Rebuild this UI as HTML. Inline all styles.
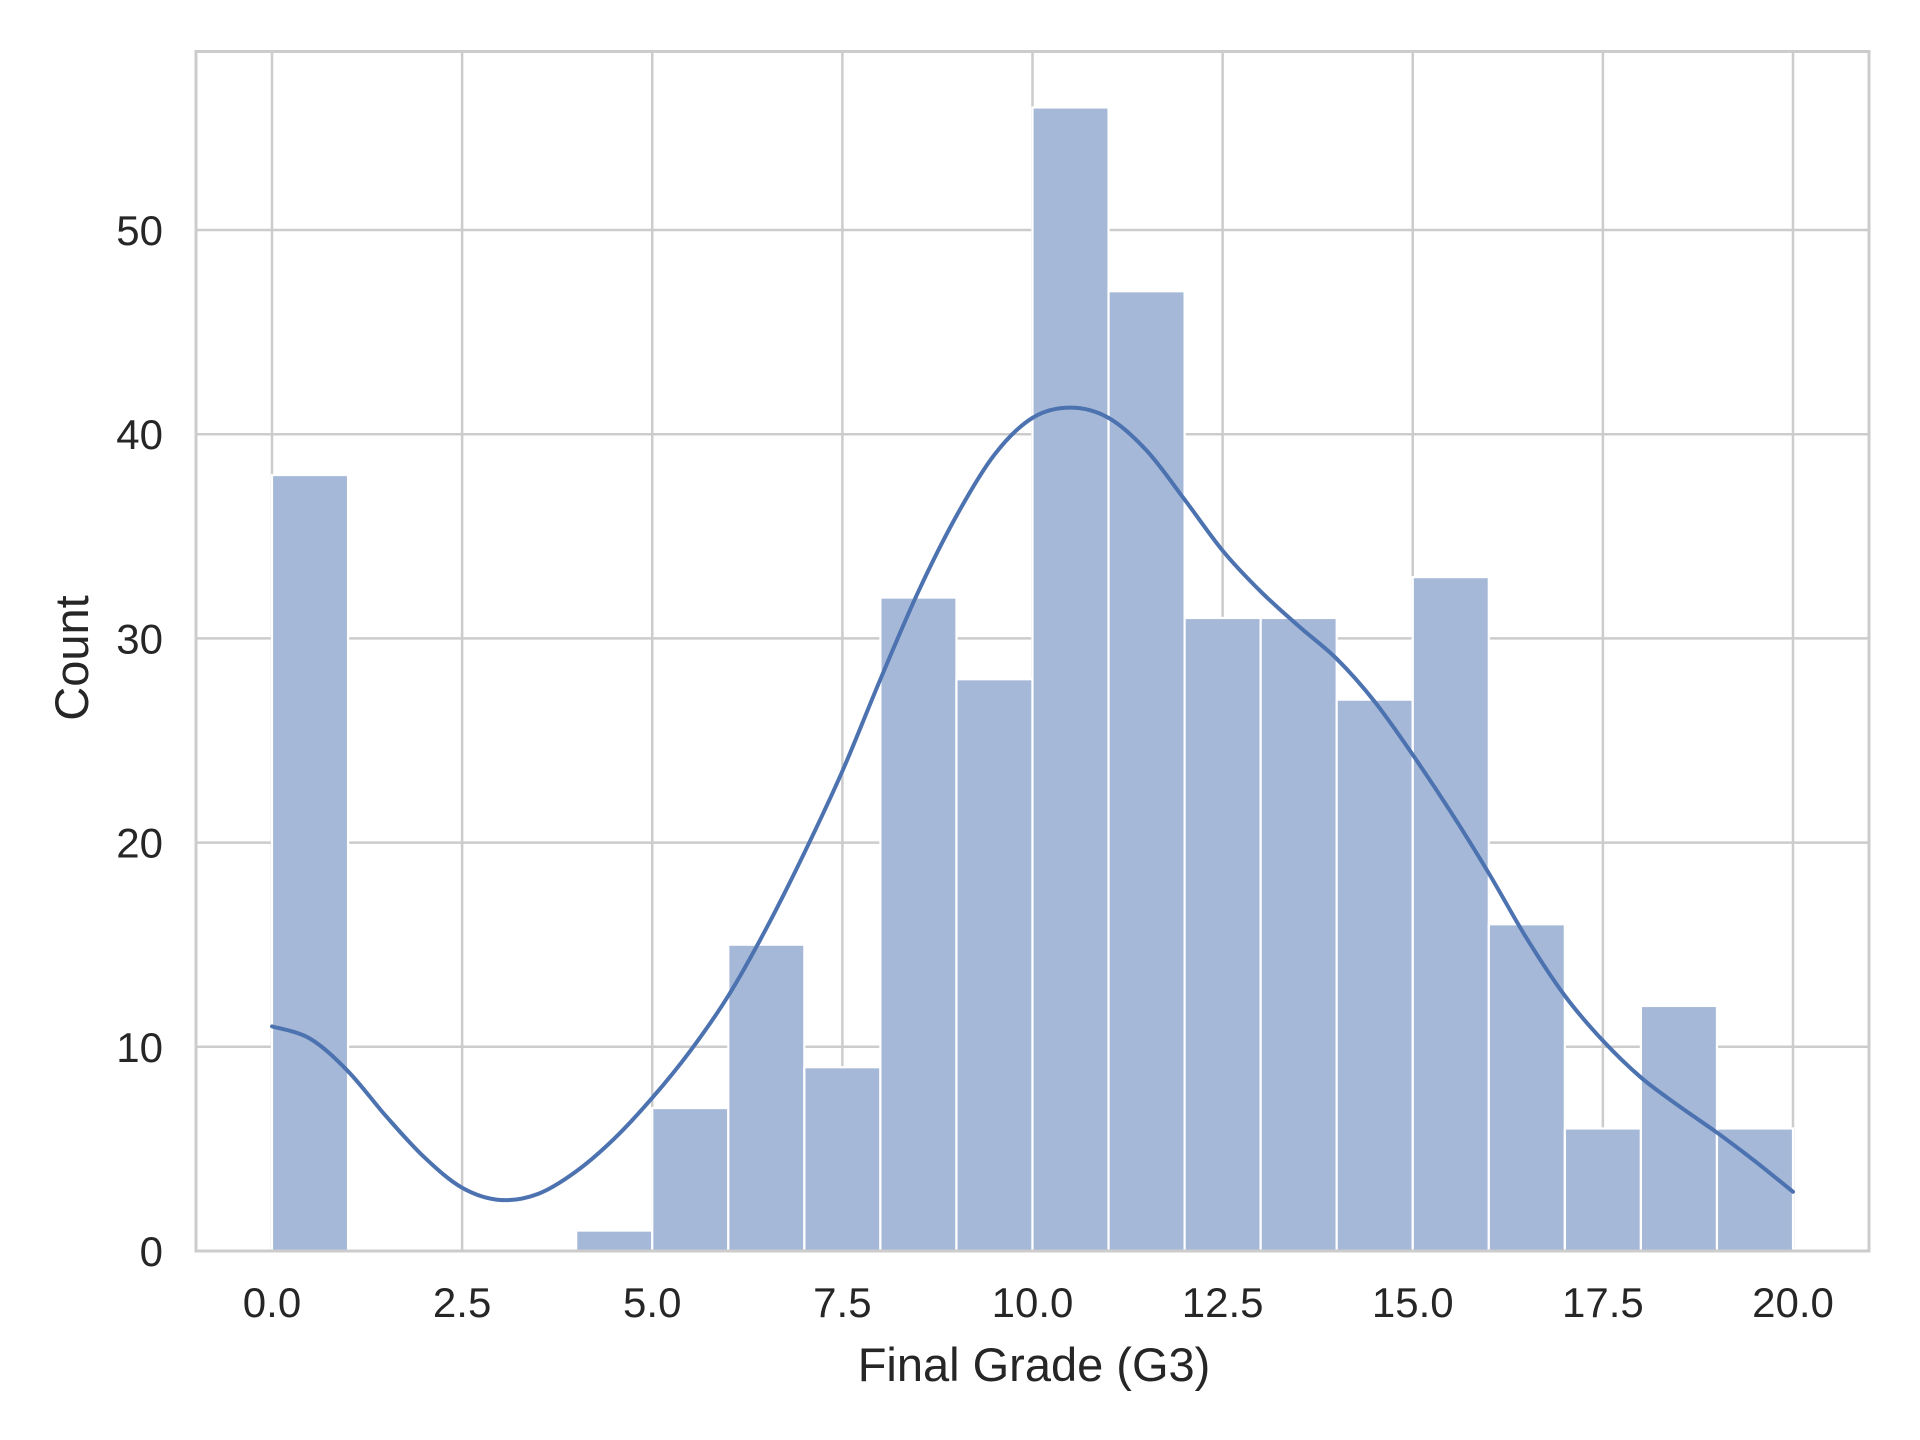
<!DOCTYPE html>
<html><head><meta charset="utf-8"><style>
html,body{margin:0;padding:0;background:#fff;}
svg{display:block;font-family:"Liberation Sans",Arial,sans-serif;}
</style></head><body>
<svg id="chart" width="1920" height="1440" viewBox="0 0 1920 1440" xmlns="http://www.w3.org/2000/svg">
<rect width="1920" height="1440" fill="#fff"/>
<g id="grid"></g>
<g id="bars"></g>
<path id="kde" fill="none" stroke="#4c72b0" stroke-width="4" stroke-linecap="round"/>
<rect x="196" y="51.5" width="1673" height="1199.5" fill="none" stroke="#cccccc" stroke-width="3"/>
<g id="xt" font-size="42" fill="#262626" text-anchor="middle"></g>
<g id="yt" font-size="42" fill="#262626" text-anchor="end"></g>
<text x="1034" y="1381" font-size="47" fill="#262626" text-anchor="middle">Final Grade (G3)</text>
<text x="0" y="0" transform="translate(88,658) rotate(-90)" font-size="47" fill="#262626" text-anchor="middle">Count</text>
</svg>
<script>
const binEdgesStart = [0,1,2,3,4,5,6,7,8,9,10,11,12,13,14,15,16,17,18,19];
const counts = [38,0,0,0,1,7,15,9,32,28,56,47,31,31,27,33,16,6,12,6];
const kdeX = [0,0.5,1,1.5,2,2.5,3,3.5,4,4.5,5,5.5,6,6.5,7,7.5,8,8.5,9,9.5,10,10.5,11,11.5,12,12.5,13,13.5,14,14.5,15,15.5,16,16.5,17,17.5,18,18.5,19,19.5,20];
const kdeY = [11,10.4,8.8,6.6,4.6,3.1,2.5,2.8,3.9,5.5,7.5,9.8,12.5,15.8,19.5,23.5,28,32.3,36,39,40.8,41.3,40.8,39.2,36.8,34.3,32.3,30.6,29,26.9,24.3,21.5,18.5,15.3,12.5,10.3,8.5,7.1,5.8,4.4,2.9];
const xTicks = [0,2.5,5,7.5,10,12.5,15,17.5,20];
const xTickLabels = ["0.0","2.5","5.0","7.5","10.0","12.5","15.0","17.5","20.0"];
const yTicks = [0,10,20,30,40,50];
const yTickLabels = ["0","10","20","30","40","50"];

const NS="http://www.w3.org/2000/svg";
const X0=272, X1=1793, Y0=1251, Y50=230;
const sx=v=>X0+(X1-X0)*v/20;
const sy=v=>Y0-(Y0-Y50)*v/50;
const grid=document.getElementById('grid'), bars=document.getElementById('bars');
function mk(tag,attrs,parent){const e=document.createElementNS(NS,tag);for(const k in attrs)e.setAttribute(k,attrs[k]);parent.appendChild(e);return e;}
xTicks.forEach((t,i)=>{
  const l=mk('line',{x1:sx(t),x2:sx(t),y1:51.5,y2:1251,stroke:'#cccccc','stroke-width':2.5},grid);
  
  
  const tx=mk('text',{x:sx(t),y:1317},document.getElementById('xt'));
  tx.textContent=xTickLabels[i];
  
  
});
yTicks.forEach((t,i)=>{
  const l=mk('line',{x1:196,x2:1869,y1:sy(t),y2:sy(t),stroke:'#cccccc','stroke-width':2.5},grid);
  
  
  const tx=mk('text',{x:163,y:sy(t)+15},document.getElementById('yt'));
  tx.textContent=yTickLabels[i];
  
  
});
counts.forEach((c,i)=>{
  if(c<=0) return;
  const x=sx(binEdgesStart[i]), w=sx(binEdgesStart[i]+1)-x;
  const r=mk('rect',{x:x,y:sy(c),width:w,height:Y0-sy(c),fill:'#a5b8d8',stroke:'#ffffff','stroke-width':2.2},bars);
  
  
});
const pts=kdeX.map((x,i)=>[sx(x),sy(kdeY[i])]);
let d='M'+pts[0][0]+','+pts[0][1];
for(let i=0;i<pts.length-1;i++){
  const p0=pts[Math.max(i-1,0)],p1=pts[i],p2=pts[i+1],p3=pts[Math.min(i+2,pts.length-1)];
  const c1=[p1[0]+(p2[0]-p0[0])/6,p1[1]+(p2[1]-p0[1])/6];
  const c2=[p2[0]-(p3[0]-p1[0])/6,p2[1]-(p3[1]-p1[1])/6];
  d+=' C'+c1[0]+','+c1[1]+' '+c2[0]+','+c2[1]+' '+p2[0]+','+p2[1];
}
document.getElementById('kde').setAttribute('d',d);
</script>
</body></html>
